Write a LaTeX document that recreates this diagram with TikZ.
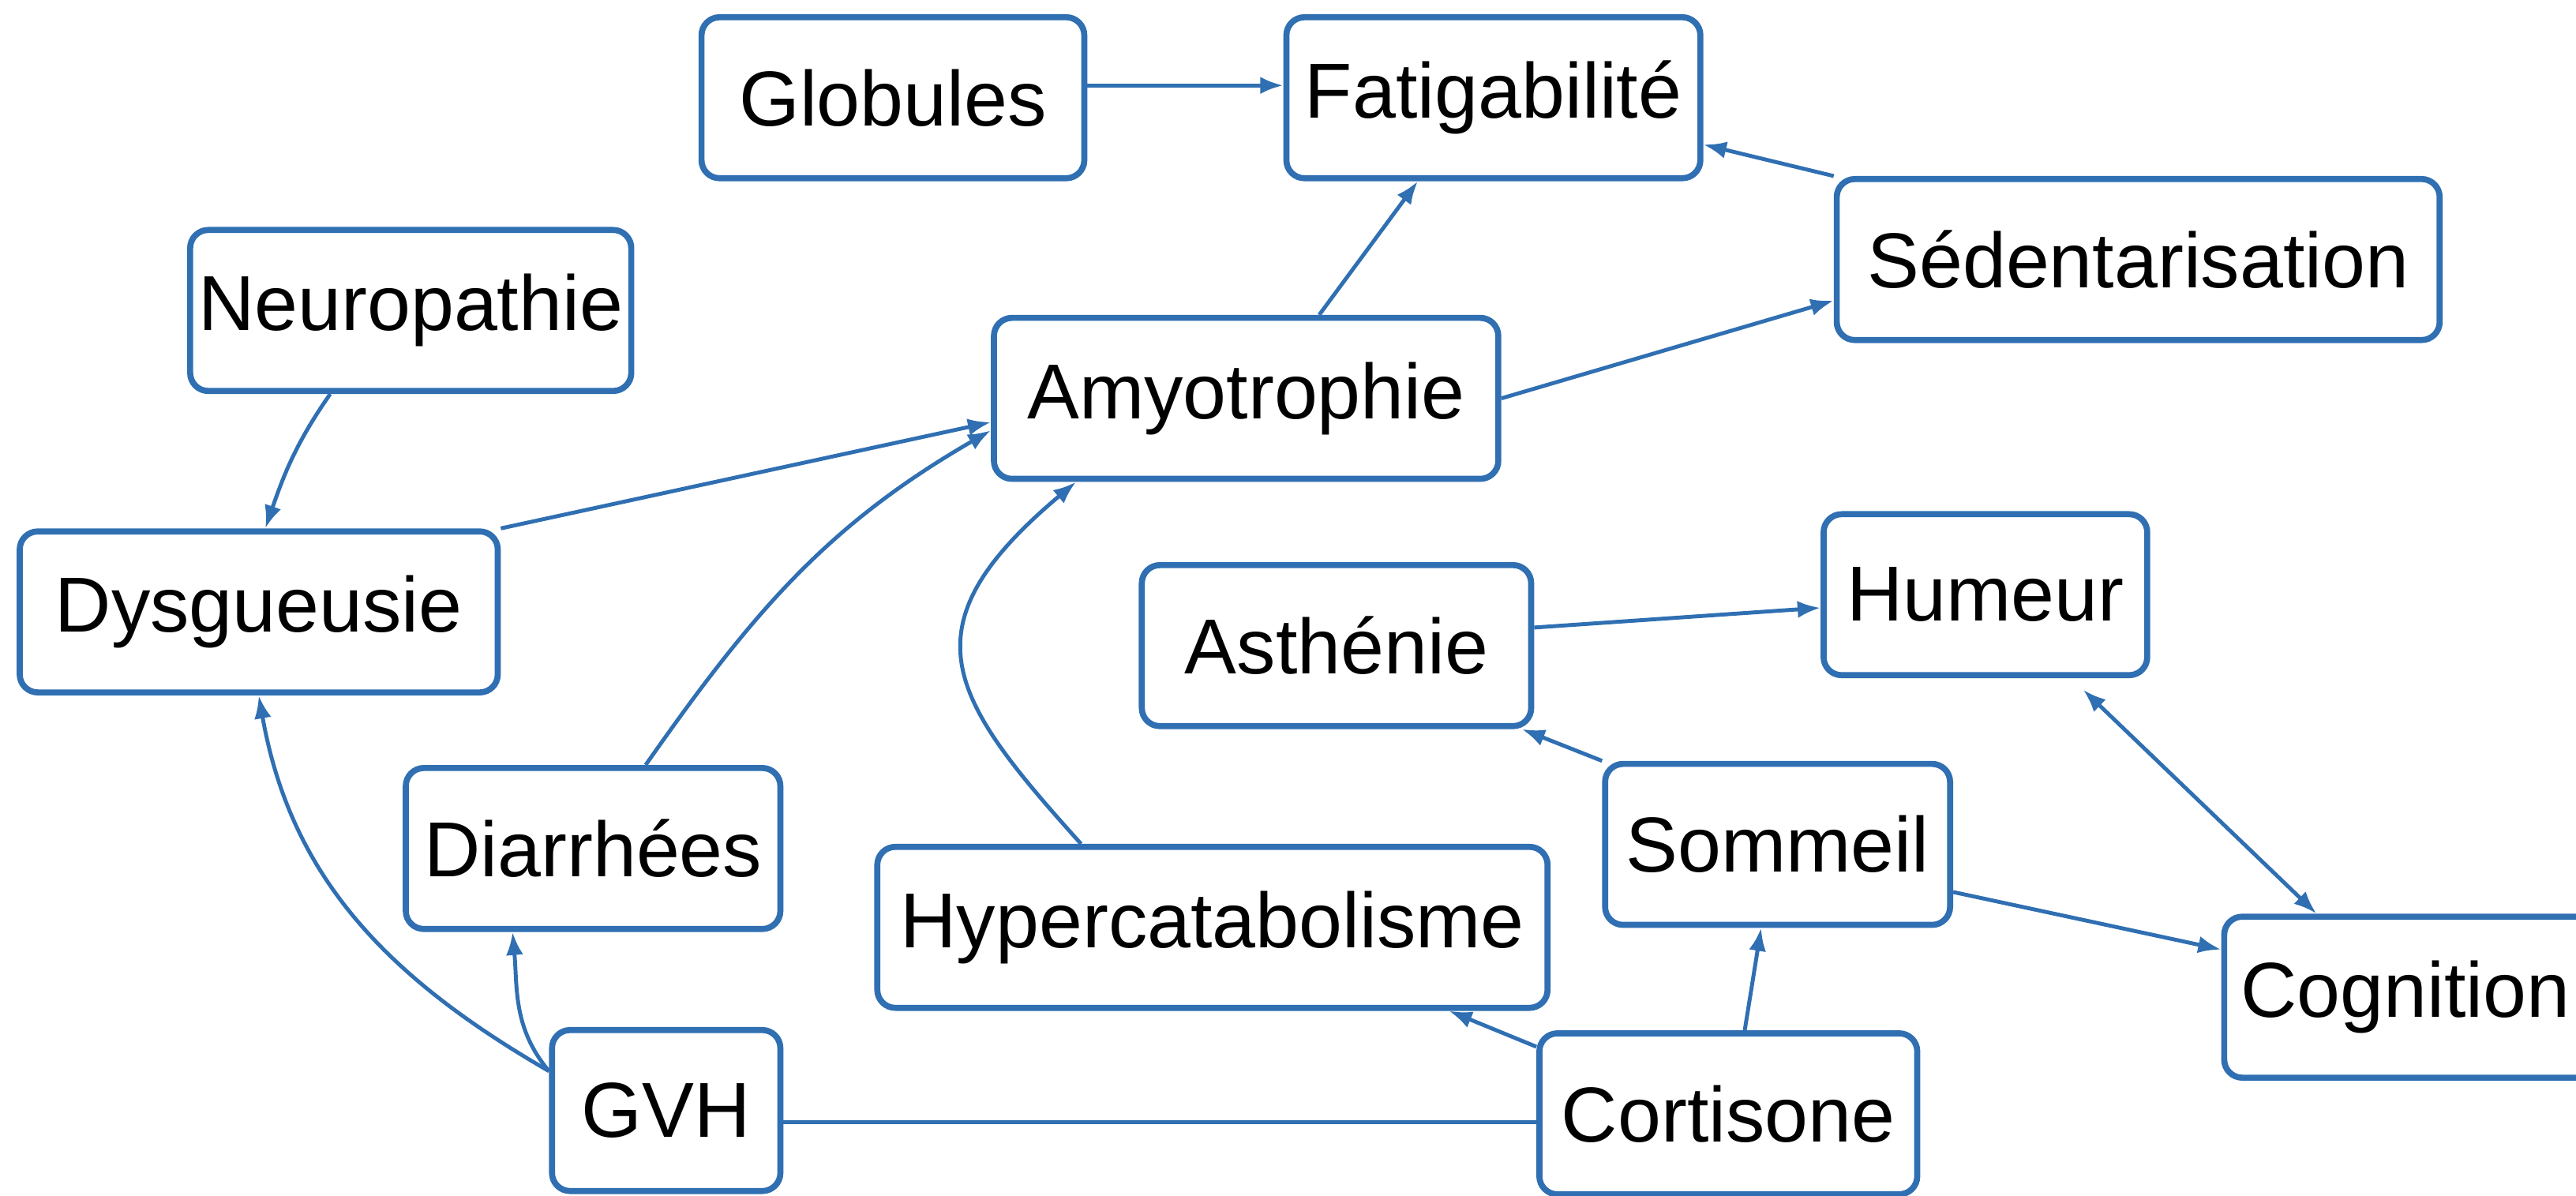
\documentclass[tikz,border=0pt]{standalone}
\usepackage{fontspec}
\setmainfont{Liberation Sans}
\usetikzlibrary{arrows.meta}
\definecolor{linkblue}{RGB}{47,111,178}
\newcommand{\symptom}[5]% name, x, y, width, text
{\node[sbox, minimum width=#4cm] (#1) at (#2,#3) {#5};
}

\begin{document}
\begin{tikzpicture}[
  sbox/.style={draw=linkblue, line width=2.1pt, rounded corners=0.22cm, fill=white,
    minimum height=1.96cm, inner xsep=0.1cm, font=\fontsize{27}{32}\selectfont},
  link/.style={draw=linkblue, line width=1.35pt, ->},
  >={Latex[length=0.28cm,width=0.21cm]}]
  \useasboundingbox (0,0) rectangle (31.36,14.56);
  \symptom{glob}{10.87}{13.37}{4.66}{Globules}
  \symptom{fat}{18.18}{13.37}{5.04}{Fatigabilité}
  \symptom{neuro}{5.00}{10.78}{5.20}{Neuropathie}
  \symptom{sed}{26.03}{11.40}{7.34}{Sédentarisation}
  \symptom{amyo}{15.17}{9.71}{6.14}{Amyotrophie}
  \symptom{dysg}{3.15}{7.11}{5.82}{Dysgueusie}
  \symptom{asth}{16.27}{6.70}{4.74}{Asthénie}
  \symptom{hum}{24.17}{7.32}{3.94}{Humeur}
  \symptom{diar}{7.22}{4.23}{4.56}{Diarrhées}
  \symptom{somm}{21.64}{4.28}{4.20}{Sommeil}
  \symptom{hyper}{14.76}{3.27}{8.16}{Hypercatabolisme}
  \symptom{gvh}{8.11}{1.04}{2.78}{GVH}
  \symptom{cort}{21.04}{1.00}{4.60}{Cortisone}
  \node[sbox, anchor=west, minimum width=5cm, text width=4.6cm, align=left] (cog) at (27.04,2.42) {Cognition};
  \coordinate (globout) at ([yshift=0.15cm]glob.east);
  \coordinate (gvhout) at ([yshift=-0.14cm]gvh.east);
  \draw[link] (globout) -- (globout -| fat.west);
  \draw[link] ([xshift=0.89cm]amyo.north) -- ([xshift=-0.92cm]fat.south);
  \draw[link] (sed.north west) -- ([yshift=-0.57cm]fat.east);
  \draw[link] (amyo.east) -- ([yshift=-0.5cm]sed.west);
  \draw[link] ([xshift=-0.98cm]neuro.south) to[out=-125, in=71] ([xshift=0.08cm]dysg.north);
  \draw[link] (dysg.north east) -- ([yshift=-0.29cm]amyo.west);
  \draw[link] ([xshift=0.64cm]diar.north) to[out=55, in=210] ([yshift=-0.39cm]amyo.west);
  \draw[link] ([xshift=-1.6cm]hyper.north) to[out=132, in=220, out looseness=1.4, in looseness=1.6] ([xshift=-2.07cm]amyo.south);
  \draw[link] ([yshift=0.22cm]asth.east) -- ([yshift=-0.16cm]hum.west);
  \draw[link] (somm.north west) -- ([xshift=-0.15cm]asth.south east);
  \draw[link] ([yshift=-0.58cm]somm.east) -- ([yshift=0.58cm]cog.west);
  \draw[link, <->] ([xshift=1.19cm,yshift=-0.14cm]hum.south) -- ([xshift=1.16cm]cog.north west);
  \draw[link] ([xshift=0.2cm]cort.north) -- ([xshift=-0.2cm]somm.south);
  \draw[link] ([yshift=-0.2cm]cort.north west) -- ([xshift=2.88cm]hyper.south);
  \draw[link, -] (gvhout) -- (gvhout -| cort.west);
  \draw[link] ([yshift=0.48cm]gvh.west) to[out=150, in=-80] (dysg.south);
  \draw[link] ([yshift=0.48cm]gvh.west) to[out=130, in=-85] ([xshift=-0.98cm]diar.south);
\end{tikzpicture}
\end{document}
